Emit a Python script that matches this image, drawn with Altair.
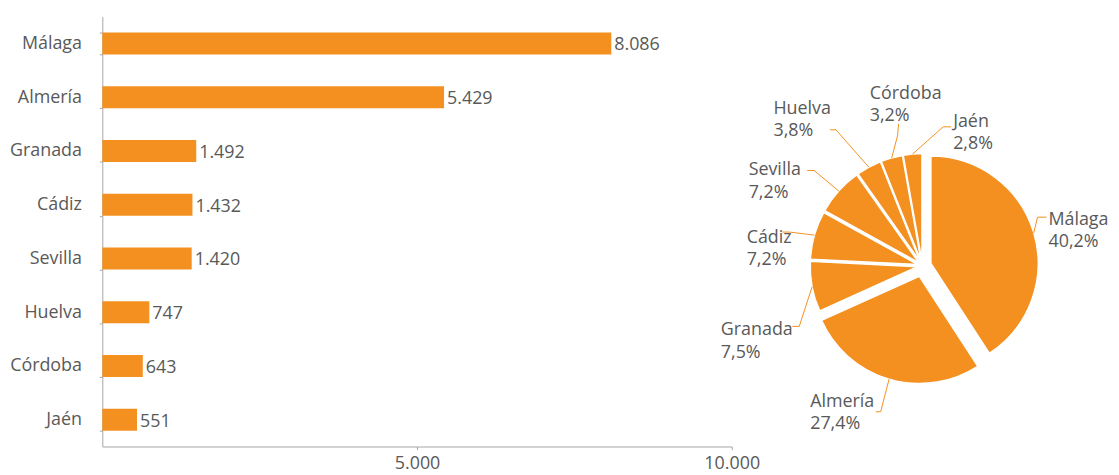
import altair as alt
import pandas as pd

# ---------------- data ----------------
provinces = ["Málaga", "Almería", "Granada", "Cádiz", "Sevilla", "Huelva", "Córdoba", "Jaén"]
values = [8086, 5429, 1492, 1432, 1420, 747, 643, 551]
pct_labels = ["40,2%", "27,4%", "7,5%", "7,2%", "7,2%", "3,8%", "3,2%", "2,8%"]
x_ticks = [5000, 10000]

# ---------------- layout / style (not data) ----------------
ORANGE = "#F39020"
GRAY_TXT = "#595959"
AXIS_GRAY = "#A6A6A6"
FONT = "Open Sans"
FS = 18

PLOT_W, PLOT_H = 1016, 433
BAR_RANGE = 634
PIE_CX, PIE_CY, PIE_R = 826, 251, 108
explode = [9, 11, 5, 5, 5, 5, 5, 5]
knee = [(116, -49), (-42, 147), (-124, 61), (-134, -34), (-109, -96), (-87, -137), (-25, -131), (21, -140)]
tail_end = [(125, -49), (-47, 147), (-131, 61), (-141, -34), (-116, -96), (-93, -137), (-24, -143), (29, -140)]
label_at = [(127, -55), (-113, 128), (-203, 56), (-177, -37), (-175, -105), (-150, -167), (-53, -182), (31, -154)]

# ---------------- tables ----------------
bar_df = pd.DataFrame({"province": provinces, "value": values})

pie_df = pd.DataFrame({
    "province": provinces,
    "value": values,
    "pct": pct_labels,
    "idx": list(range(len(provinces))),
    "explode": explode,
    "kx": [PIE_CX + k[0] for k in knee],
    "ky": [PIE_CY + k[1] for k in knee],
    "ex": [PIE_CX + e[0] for e in tail_end],
    "ey": [PIE_CY + e[1] for e in tail_end],
    "lx": [PIE_CX + l[0] for l in label_at],
    "ly": [PIE_CY + l[1] for l in label_at],
})
pie_df["lbl"] = pie_df["province"] + "\n" + pie_df["pct"]

# ---------------- bar chart ----------------
y_enc = alt.Y(
    "province:N",
    sort=provinces,
    scale=alt.Scale(paddingInner=0.59, paddingOuter=0.295),
    axis=alt.Axis(
        title=None, tickBand="extent", tickSize=3, labelPadding=18, grid=False,
        domainColor=AXIS_GRAY, tickColor=AXIS_GRAY, labelColor=GRAY_TXT,
        labelFont=FONT, labelFontSize=FS,
    ),
)
x_enc = alt.X(
    "value:Q",
    scale=alt.Scale(domain=[0, 10000], range=[0, BAR_RANGE]),
    axis=alt.Axis(
        title=None, values=x_ticks, grid=False, tickSize=3, labelPadding=5,
        labelFlush=False,
        labelExpr="replace(format(datum.value, ','), ',', '.')",
        domainColor=AXIS_GRAY, tickColor=AXIS_GRAY, labelColor=GRAY_TXT,
        labelFont=FONT, labelFontSize=FS,
    ),
)

bars = alt.Chart(bar_df).mark_bar(color=ORANGE).encode(x=x_enc, y=y_enc)
bar_text = alt.Chart(bar_df).transform_calculate(
    lab="replace(format(datum.value, ','), ',', '.')"
).mark_text(
    align="left", baseline="middle", dx=3, dy=2, font=FONT, fontSize=FS, color=GRAY_TXT
).encode(x=x_enc, y=y_enc, text="lab:N")

# ---------------- pie ----------------
pie_base = alt.Chart(pie_df).transform_joinaggregate(
    total="sum(value)"
).transform_window(
    cum="sum(value)", sort=[alt.SortField("idx", order="ascending")], frame=[None, 0]
).transform_calculate(
    mid="(datum.cum - datum.value / 2) / datum.total * 2 * PI"
).transform_calculate(
    cx=f"{PIE_CX} + datum.explode * sin(datum.mid)",
    cy=f"{PIE_CY} - datum.explode * cos(datum.mid)",
)

arcs = pie_base.mark_arc(outerRadius=PIE_R, stroke="white", strokeWidth=1.4, color=ORANGE).encode(
    theta=alt.Theta("value:Q", stack=True),
    order=alt.Order("idx:Q"),
    x=alt.X("cx:Q", scale=None, axis=None),
    y=alt.Y("cy:Q", scale=None, axis=None),
)

leaders = pie_base.transform_calculate(
    sx=f"datum.cx + {PIE_R} * sin(datum.mid)",
    sy=f"datum.cy - {PIE_R} * cos(datum.mid)",
    pts="[0, 1, 2]",
).transform_flatten(["pts"]).transform_calculate(
    px="datum.pts == 0 ? datum.sx : (datum.pts == 1 ? datum.kx : datum.ex)",
    py="datum.pts == 0 ? datum.sy : (datum.pts == 1 ? datum.ky : datum.ey)",
).mark_line(color=ORANGE, strokeWidth=1).encode(
    x=alt.X("px:Q", scale=None, axis=None),
    y=alt.Y("py:Q", scale=None, axis=None),
    detail="province:N",
    order="pts:Q",
)

pie_labels = alt.Chart(pie_df).mark_text(
    align="left", baseline="top", lineBreak="\n", lineHeight=22.5,
    font=FONT, fontSize=FS, color=GRAY_TXT,
).encode(
    x=alt.X("lx:Q", scale=None, axis=None),
    y=alt.Y("ly:Q", scale=None, axis=None),
    text="lbl:N",
)

chart = alt.layer(bars, bar_text, arcs, leaders, pie_labels).properties(
    width=PLOT_W, height=PLOT_H,
    autosize=alt.AutoSizeParams(type="none"),
    padding={"left": 95, "top": 7, "right": 0, "bottom": 26},
).configure(font=FONT).configure_view(strokeWidth=0, stroke="transparent")

chart.save("out.html", embed_options={"renderer": "svg", "actions": False})
